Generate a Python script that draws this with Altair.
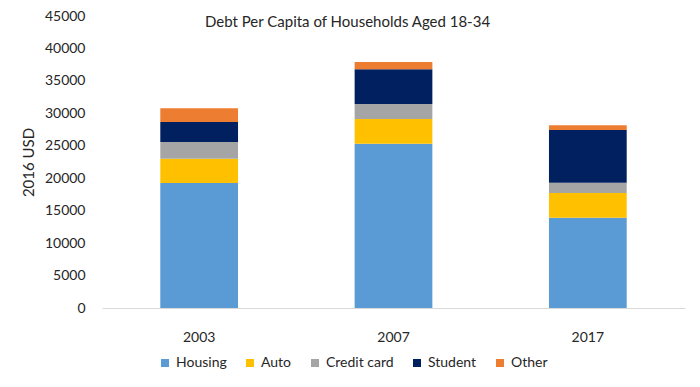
import altair as alt
import pandas as pd

years = ["2003", "2007", "2017"]
categories = ["Housing", "Auto", "Credit card", "Student", "Other"]
housing = [19260, 25320, 13920]
auto = [3740, 3800, 3800]
credit_card = [2580, 2310, 1590]
student = [3080, 5350, 8120]
other = [2110, 1120, 720]
colors = ["#5B9BD5", "#FFC000", "#A5A5A5", "#002060", "#ED7D31"]
title_text = "Debt Per Capita of Households Aged 18-34"

series = [housing, auto, credit_card, student, other]
rows = []
for ci, (cat, vals) in enumerate(zip(categories, series)):
    for y, v in zip(years, vals):
        rows.append({"Year": y, "Category": cat, "Value": v, "idx": ci})
df = pd.DataFrame(rows)

FONT = "Lato"
TXT = "#262626"

bars = alt.Chart(df).mark_bar().encode(
    x=alt.X("Year:N", sort=years,
            scale=alt.Scale(paddingInner=0.6, paddingOuter=0.3),
            axis=alt.Axis(title=None, labelAngle=0, ticks=False, labelPadding=22,
                          domainColor="#D9D9D9", labelFont=FONT, labelFontSize=14,
                          labelColor=TXT)),
    y=alt.Y("Value:Q", stack="zero",
            scale=alt.Scale(domain=[0, 45000], nice=False),
            axis=alt.Axis(title="2016 USD", values=list(range(0, 45001, 5000)),
                          format="d",
                          grid=False, domain=False, ticks=False, labelPadding=17,
                          labelFont=FONT, labelFontSize=14, labelColor=TXT,
                          titleFont=FONT, titleFontSize=15, titleFontWeight="normal",
                          titleColor=TXT, titlePadding=8)),
    color=alt.Color("Category:N", sort=categories,
                    scale=alt.Scale(domain=categories, range=colors),
                    legend=alt.Legend(title=None, orient="none", direction="horizontal",
                                      legendX=56, legendY=340, symbolType="square",
                                      symbolSize=64, symbolStrokeWidth=0,
                                      labelFont=FONT, labelFontSize=14, labelColor=TXT,
                                      columnPadding=16, labelOffset=4, padding=0)),
    order=alt.Order("idx:Q", sort="ascending"),
)

title = alt.Chart(pd.DataFrame({"t": [title_text]})).mark_text(
    align="left", baseline="middle", font=FONT, fontSize=15, color=TXT
).encode(text="t:N", x=alt.value(103), y=alt.value(6))

chart = alt.layer(bars, title).properties(
    width=583, height=292,
    autosize=alt.AutoSizeParams(type="none"),
    padding={"left": 94, "top": 8, "right": 7, "bottom": 71},
).configure_view(stroke=None)

chart.save("out.html", embed_options={"renderer": "svg", "actions": False})
